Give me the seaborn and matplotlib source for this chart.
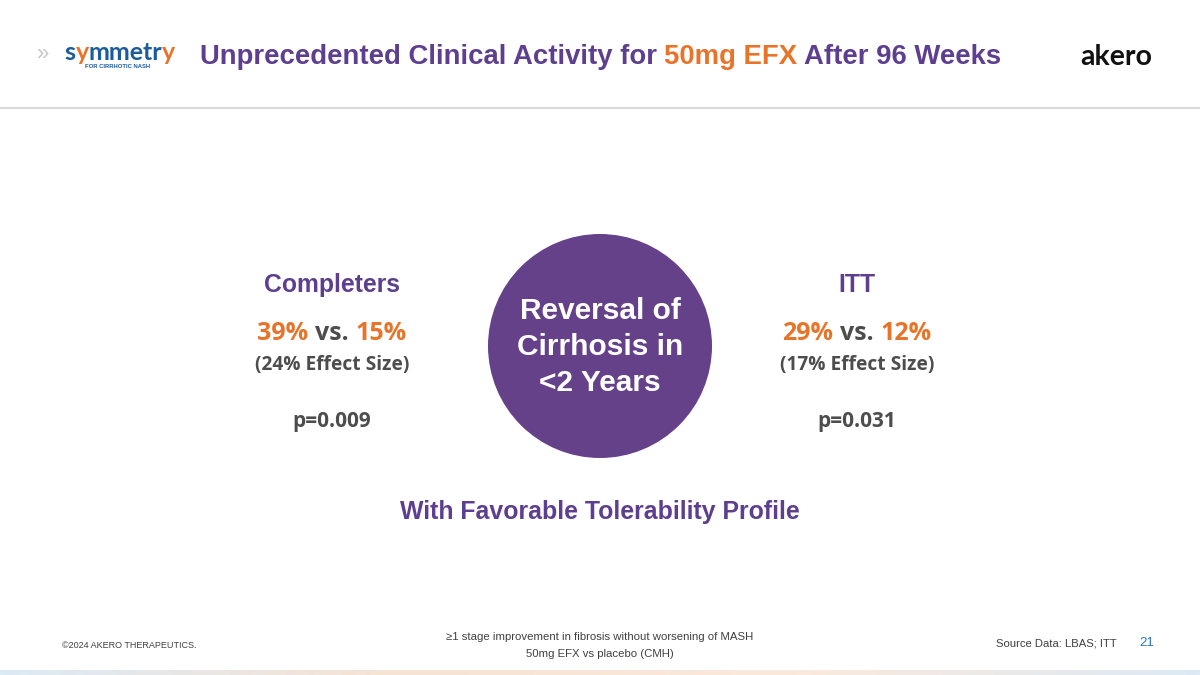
import matplotlib
matplotlib.use('Agg')
import matplotlib.pyplot as plt
import numpy as np
import seaborn as sns
from matplotlib.patches import Circle
from matplotlib.offsetbox import TextArea, HPacker, AnnotationBbox
from matplotlib.colors import LinearSegmentedColormap

sns.set_theme(style="white")
plt.rcParams['font.family'] = ['Liberation Sans', 'DejaVu Sans']

# ---- 데이터 ----
groups = ["Completers", "ITT"]
efx_pct = [39, 29]
placebo_pct = [15, 12]
effect_pct = [24, 17]
p_values = ["0.009", "0.031"]
circle_lines = ["Reversal of", "Cirrhosis in", "<2 Years"]

PURPLE = "#5E3F8F"
CIRCLE = "#654189"
ORANGE = "#E8742A"
GRAY = "#4D4D4D"
STAT_FONT = ['Open Sans', 'DejaVu Sans']
HEAD_FONT = ['Liberation Sans', 'DejaVu Sans']

fig = plt.figure(figsize=(12, 6.75), dpi=100)
ax = fig.add_axes([0, 0, 1, 1])
ax.set_xlim(0, 1200)
ax.set_ylim(675, 0)
ax.axis('off')


def multicolor(parts, xy, size, family, align=(0.5, 0.5), sep=5, weight='bold'):
    areas = [TextArea(s, textprops=dict(color=c, fontsize=size, family=family,
                                        fontweight=weight)) for s, c in parts]
    box = HPacker(children=areas, align='baseline', pad=0, sep=sep)
    ab = AnnotationBbox(box, xy, xycoords='data', frameon=False,
                        box_alignment=align, pad=0)
    ax.add_artist(ab)


# ---- 헤더 ----
ax.text(42, 54, "»", fontsize=16, color="#c8c8c8", ha='center', va='center')
multicolor([("s", "#1D5C9C"), ("y", ORANGE), ("mmetr", "#1D5C9C"), ("y", ORANGE)],
           (120, 52), 18, ['Lato', 'DejaVu Sans'], sep=0)
ax.text(118, 67, "FOR CIRRHOTIC NASH", fontsize=4.2, color="#1D5C9C",
        fontweight='bold', ha='center', va='center')
multicolor([("Unprecedented Clinical Activity for", PURPLE), ("50mg EFX", ORANGE),
            ("After 96 Weeks", PURPLE)], (200, 57), 19.8, HEAD_FONT, align=(0, 0.5), sep=5)
ax.text(1116, 57, "akero", fontsize=20.5, color="#111111", fontweight='bold',
        family=['Lato', 'DejaVu Sans'], ha='center', va='center')
ax.plot([0, 1200], [108, 108], color="#d9d9d9", lw=1.5)

# ---- 중앙 원 ----
ax.add_patch(Circle((600, 346), 112, facecolor=CIRCLE, edgecolor='none'))
for i, line in enumerate(circle_lines):
    ax.text(600, 311 + i * 36, line, fontsize=21.5, color='white', fontweight='bold',
            family=HEAD_FONT, ha='center', va='center')

# ---- 좌우 통계 ----
centers = [332, 857]
for cx, g, a, b, e, p in zip(centers, groups, efx_pct, placebo_pct, effect_pct, p_values):
    ax.text(cx, 285, g, fontsize=17.8, color=PURPLE, fontweight='bold',
            family=HEAD_FONT, ha='center', va='center')
    multicolor([(f"{a}%", ORANGE), ("vs.", GRAY), (f"{b}%", ORANGE)],
               (cx, 333), 18, STAT_FONT, sep=5)
    ax.text(cx, 365, f"({e}% Effect Size)", fontsize=13.8, color=GRAY, fontweight='bold',
            family=STAT_FONT, ha='center', va='center')
    ax.text(cx, 422, f"p={p}", fontsize=15, color=GRAY, fontweight='bold',
            family=STAT_FONT, ha='center', va='center')

ax.text(600, 512, "With Favorable Tolerability Profile", fontsize=17.9, color=PURPLE,
        fontweight='bold', family=HEAD_FONT, ha='center', va='center')

# ---- 푸터 ----
NARROW = ['Liberation Sans Narrow', 'Liberation Sans', 'DejaVu Sans']
ax.text(62, 645, "©2024 AKERO THERAPEUTICS.", fontsize=6.5, color="#404040",
        family=NARROW, ha='left', va='center')
ax.text(600, 637, "≥1 stage improvement in fibrosis without worsening of MASH",
        fontsize=8.2, color="#404040", family=NARROW, ha='center', va='center')
ax.text(600, 654, "50mg EFX vs placebo (CMH)", fontsize=8.2, color="#404040",
        family=NARROW, ha='center', va='center')
ax.text(1117, 643, "Source Data: LBAS; ITT", fontsize=8.1, color="#404040",
        family=NARROW, ha='right', va='center')
ax.text(1147, 643, "21", fontsize=9.5, color="#2E75B6", family=NARROW,
        ha='center', va='center')

# 하단 그라데이션 띠
cmap = LinearSegmentedColormap.from_list("band", ["#dceaf5", "#f7e3d3", "#fbe9dc", "#dceaf5"])
ax.imshow(np.linspace(0, 1, 256).reshape(1, -1), cmap=cmap, aspect='auto',
          extent=(0, 1200, 675, 670), zorder=0)
ax.set_xlim(0, 1200)
ax.set_ylim(675, 0)

fig.savefig("out.png", dpi=100, facecolor='white')
